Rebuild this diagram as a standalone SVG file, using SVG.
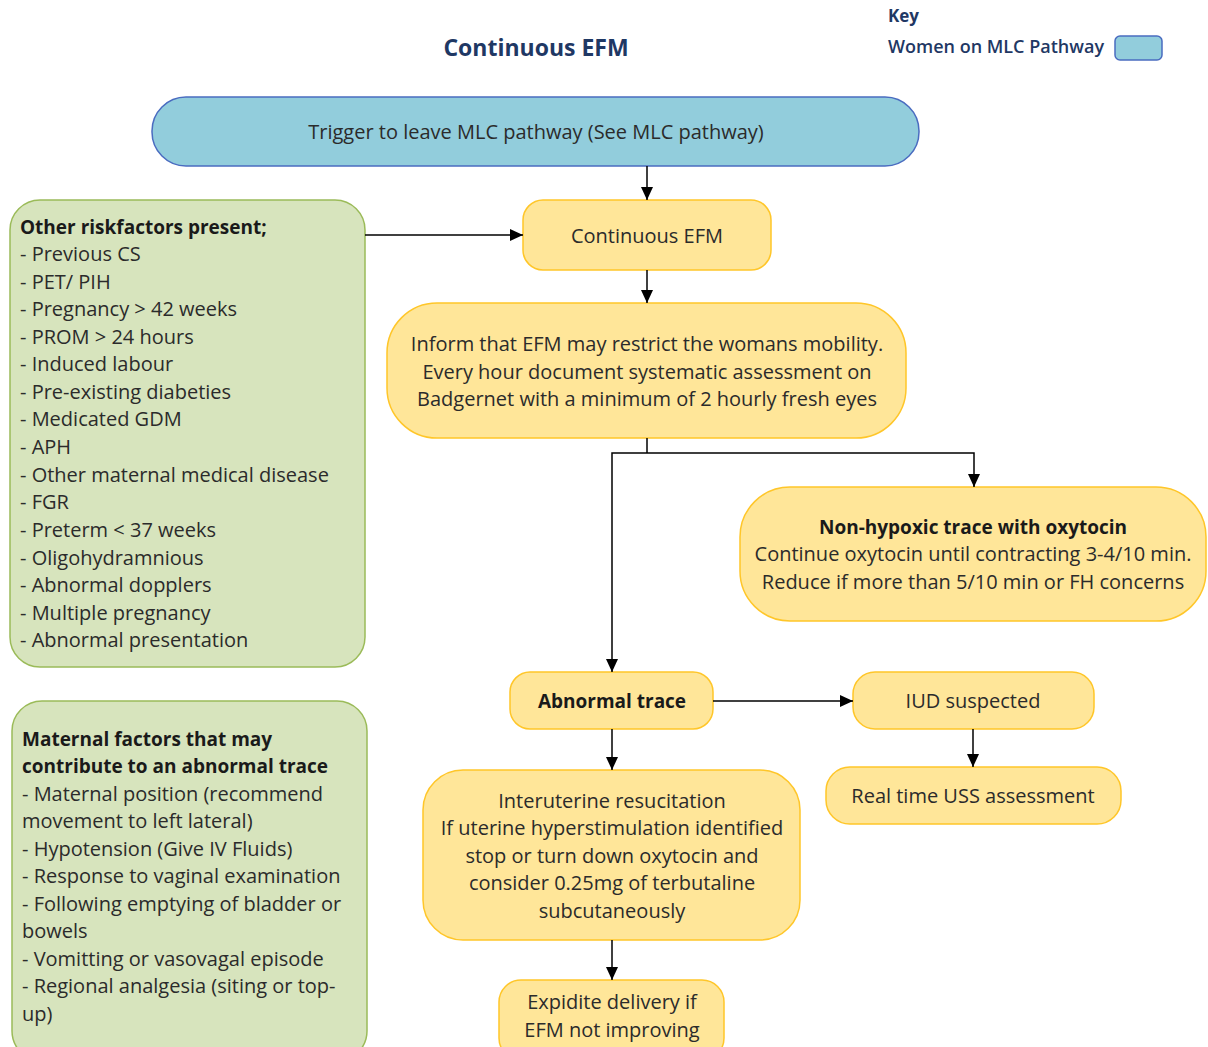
<svg xmlns="http://www.w3.org/2000/svg" width="1208" height="1047" viewBox="0 0 1208 1047">
<defs>
<marker id="ah" viewBox="0 0 10 10" refX="10" refY="5" markerWidth="13" markerHeight="12" markerUnits="userSpaceOnUse" orient="auto" preserveAspectRatio="none">
<path d="M0,0 L10,5 L0,10 z" fill="#000"/>
</marker>
<style>
text{font-family:"Open Sans","Liberation Sans",sans-serif;fill:#2b2b2b;font-size:20px}
.c{text-anchor:middle}
.b{font-weight:bold;fill:#1a1a1a;font-size:19px}
.nav{fill:#1f3864;font-weight:bold}
.blue{fill:#92cddc;stroke:#4a6cc0;stroke-width:1.5}
.yel{fill:#ffe699;stroke:#ffc629;stroke-width:1.5}
.grn{fill:#d7e4bd;stroke:#9bbb59;stroke-width:1.5}
.ln{fill:none;stroke:#000;stroke-width:1.5}
</style>
</defs>
<rect width="1208" height="1047" fill="#fff"/>
<g id="title"><text x="536" y="56" class="c nav" style="font-size:23px">Continuous EFM</text></g>
<g id="key">
<text x="888" y="22" class="nav" style="font-size:17px">Key</text>
<text x="888" y="53" class="nav" style="font-size:18px;font-weight:600">Women on MLC Pathway</text>
<rect x="1115" y="36" width="47" height="24" rx="5" class="blue"/>
</g>
<g id="trigger"><rect x="152" y="97" width="767" height="69" rx="34" class="blue"/>
<text x="536" y="139" class="c">Trigger to leave MLC pathway (See MLC pathway)</text></g>
<g id="cefm"><rect x="523" y="200" width="248" height="70" rx="20" class="yel"/>
<text x="647" y="243" class="c">Continuous EFM</text></g>
<g id="inform"><rect x="387" y="303" width="519" height="135" rx="50" class="yel"/>
<text x="647" y="351" class="c">Inform that EFM may restrict the womans mobility.</text>
<text x="647" y="379" class="c">Every hour document systematic assessment on</text>
<text x="647" y="406" class="c">Badgernet with a minimum of 2 hourly fresh eyes</text></g>
<g id="nonhyp"><rect x="740" y="487" width="466" height="134" rx="50" class="yel"/>
<text x="973" y="534" class="c b">Non-hypoxic trace with oxytocin</text>
<text x="973" y="561" class="c">Continue oxytocin until contracting 3-4/10 min.</text>
<text x="973" y="589" class="c">Reduce if more than 5/10 min or FH concerns</text></g>
<g id="abn"><rect x="510" y="672" width="203" height="57" rx="20" class="yel"/>
<text x="612" y="708" class="c b">Abnormal trace</text></g>
<g id="iud"><rect x="853" y="672" width="241" height="57" rx="22" class="yel"/>
<text x="973" y="708" class="c">IUD suspected</text></g>
<g id="uss"><rect x="826" y="767" width="295" height="57" rx="24" class="yel"/>
<text x="973" y="803" class="c">Real time USS assessment</text></g>
<g id="resus"><rect x="423" y="770" width="377" height="170" rx="40" class="yel"/>
<text x="612" y="808" class="c">Interuterine resucitation</text>
<text x="612" y="835" class="c">If uterine hyperstimulation identified</text>
<text x="612" y="863" class="c">stop or turn down oxytocin and</text>
<text x="612" y="890" class="c">consider 0.25mg of terbutaline</text>
<text x="612" y="918" class="c">subcutaneously</text></g>
<g id="expid"><rect x="499" y="980" width="225" height="80" rx="22" class="yel"/>
<text x="612" y="1009" class="c">Expidite delivery if</text>
<text x="612" y="1037" class="c">EFM not improving</text></g>
<g id="risk"><rect x="10" y="200" width="355" height="467" rx="30" class="grn"/>
<text x="20" y="234" class="b">Other riskfactors present;</text>
<text x="20" y="261">- Previous CS</text>
<text x="20" y="289">- PET/ PIH</text>
<text x="20" y="316">- Pregnancy &gt; 42 weeks</text>
<text x="20" y="344">- PROM &gt; 24 hours</text>
<text x="20" y="371">- Induced labour</text>
<text x="20" y="399">- Pre-existing diabeties</text>
<text x="20" y="426">- Medicated GDM</text>
<text x="20" y="454">- APH</text>
<text x="20" y="482">- Other maternal medical disease</text>
<text x="20" y="509">- FGR</text>
<text x="20" y="537">- Preterm &lt; 37 weeks</text>
<text x="20" y="565">- Oligohydramnious</text>
<text x="20" y="592">- Abnormal dopplers</text>
<text x="20" y="620">- Multiple pregnancy</text>
<text x="20" y="647">- Abnormal presentation</text></g>
<g id="maternal"><rect x="12" y="701" width="355" height="360" rx="30" class="grn"/>
<text x="22" y="746" class="b">Maternal factors that may</text>
<text x="22" y="773" class="b">contribute to an abnormal trace</text>
<text x="22" y="801">- Maternal position (recommend</text>
<text x="22" y="828">movement to left lateral)</text>
<text x="22" y="856">- Hypotension (Give IV Fluids)</text>
<text x="22" y="883">- Response to vaginal examination</text>
<text x="22" y="911">- Following emptying of bladder or</text>
<text x="22" y="938">bowels</text>
<text x="22" y="966">- Vomitting or vasovagal episode</text>
<text x="22" y="993">- Regional analgesia (siting or top-</text>
<text x="22" y="1021">up)</text></g>
<g id="connectors">
<path d="M647,166 V200" class="ln" marker-end="url(#ah)"/>
<path d="M365,235 H523" class="ln" marker-end="url(#ah)"/>
<path d="M647,270 V303" class="ln" marker-end="url(#ah)"/>
<path d="M647,438 V453" class="ln"/>
<path d="M647,453 H974 V487" class="ln" marker-end="url(#ah)"/>
<path d="M647,453 H612 V672" class="ln" marker-end="url(#ah)"/>
<path d="M713,701 H853" class="ln" marker-end="url(#ah)"/>
<path d="M973,729 V767" class="ln" marker-end="url(#ah)"/>
<path d="M612,729 V770" class="ln" marker-end="url(#ah)"/>
<path d="M612,940 V980" class="ln" marker-end="url(#ah)"/>
</g>
</svg>
